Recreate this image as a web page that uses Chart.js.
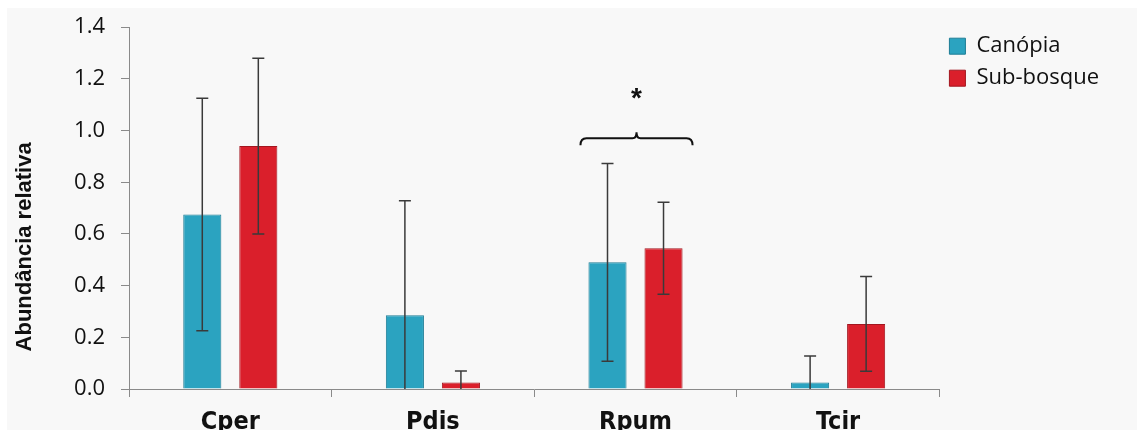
<!DOCTYPE html>
<html>
<head>
<meta charset="utf-8">
<script src="https://cdn.jsdelivr.net/npm/chart.js@4.4.1/dist/chart.umd.min.js"></script>
<style>
  html, body { margin: 0; padding: 0; background: #fff; overflow: hidden; }
  #bg { position: absolute; left: 7px; top: 8px; width: 1130px; height: 430px; background: #f8f8f8; }
  #wrap { position: absolute; left: 7px; top: -2px; width: 1130px; height: 450px; }
</style>
</head>
<body>
<div id="bg"></div>
<div id="wrap"><canvas id="abundChart"></canvas></div>
<script>
// Dados
const categories = ["Cper", "Pdis", "Rpum", "Tcir"];
const canopia = [0.675, 0.285, 0.49, 0.025];
const canopiaErr = [0.45, 0.443, 0.383, 0.103];
const subBosque = [0.94, 0.025, 0.545, 0.252];
const subBosqueErr = [0.34, 0.045, 0.178, 0.183];
const yTicks = [0, 0.2, 0.4, 0.6, 0.8, 1.0, 1.2, 1.4];
const yTitle = "Abundância relativa";

// chave de significancia
const sigCategory = "Rpum";
const sigLevel = 0.97;
const sigLabel = "*";

const errors = [canopiaErr, subBosqueErr];

// barras de erro, chave e titulo do eixo
const errorBarPlugin = {
  id: "errorBars",
  afterDatasetsDraw(chart) {
    const ctx = chart.ctx;
    const y = chart.scales.y;
    const area = chart.chartArea;
    ctx.save();
    ctx.beginPath();
    ctx.rect(area.left, area.top - 20, area.right - area.left, area.bottom - area.top + 20);
    ctx.clip();
    ctx.strokeStyle = "#3a3a3a";
    ctx.lineWidth = 1.5;
    chart.data.datasets.forEach(function (ds, di) {
      const meta = chart.getDatasetMeta(di);
      meta.data.forEach(function (bar, i) {
        const v = ds.data[i];
        const e = errors[di][i];
        const top = y.getPixelForValue(v + e);
        const bot = y.getPixelForValue(v - e);
        ctx.beginPath();
        ctx.moveTo(bar.x, top);
        ctx.lineTo(bar.x, bot);
        ctx.moveTo(bar.x - 6, top);
        ctx.lineTo(bar.x + 6, top);
        if (v - e > 0) {
          ctx.moveTo(bar.x - 6, bot);
          ctx.lineTo(bar.x + 6, bot);
        }
        ctx.stroke();
      });
    });
    ctx.restore();

    // chave + asterisco
    const idx = categories.indexOf(sigCategory);
    const b0 = chart.getDatasetMeta(0).data[idx];
    const b1 = chart.getDatasetMeta(1).data[idx];
    const x0 = b0.x - b0.width / 2 - 8;
    const x1 = b1.x + b1.width / 2 + 10;
    const xm = (x0 + x1) / 2;
    const yb = y.getPixelForValue(sigLevel);
    ctx.save();
    ctx.strokeStyle = "#111";
    ctx.lineWidth = 2;
    ctx.beginPath();
    ctx.moveTo(x0, yb + 7);
    ctx.quadraticCurveTo(x0, yb, x0 + 6, yb);
    ctx.lineTo(xm - 4, yb);
    ctx.quadraticCurveTo(xm, yb, xm, yb - 6);
    ctx.quadraticCurveTo(xm, yb, xm + 4, yb);
    ctx.lineTo(x1 - 6, yb);
    ctx.quadraticCurveTo(x1, yb, x1, yb + 7);
    ctx.stroke();
    ctx.fillStyle = "#111";
    ctx.font = "bold 28px 'Liberation Sans', Arial, sans-serif";
    ctx.textAlign = "center";
    ctx.textBaseline = "middle";
    ctx.fillText(sigLabel, xm, y.getPixelForValue(1.12));

    // titulo do eixo y
    ctx.translate(18, y.getPixelForValue(0.55));
    ctx.rotate(-Math.PI / 2);
    ctx.font = "bold 22px 'Liberation Sans', Arial, sans-serif";
    ctx.fillText(yTitle, 0, 0);
    ctx.restore();
  },
};

const ctx = document.getElementById("abundChart").getContext("2d");
new Chart(ctx, {
  type: "bar",
  data: {
    labels: categories,
    datasets: [
      {
        label: "Canópia",
        data: canopia,
        backgroundColor: "#2ba3c0",
        borderColor: "#1d7d95",
        borderWidth: 1,
        categoryPercentage: 0.553,
        barPercentage: 0.68,
      },
      {
        label: "Sub-bosque",
        data: subBosque,
        backgroundColor: "#da1f2b",
        borderColor: "#a3161f",
        borderWidth: 1,
        categoryPercentage: 0.553,
        barPercentage: 0.68,
      },
    ],
  },
  options: {
    responsive: true,
    maintainAspectRatio: false,
    animation: false,
    layout: { padding: { left: 2, right: 28, top: 0, bottom: 1 } },
    plugins: {
      legend: {
        position: "right",
        align: "start",
        title: { display: true, text: " ", font: { size: 1 }, padding: { top: 13, bottom: 13 } },
        labels: {
          boxWidth: 16,
          boxHeight: 16,
          padding: 10,
          color: "#111",
          font: { family: "'Open Sans', sans-serif", size: 22 },
        },
      },
      tooltip: { enabled: false },
    },
    scales: {
      y: {
        min: 0,
        max: 1.4,
        afterBuildTicks: function (axis) {
          axis.ticks = yTicks.map(function (v) { return { value: v }; });
        },
        afterFit: function (axis) { axis.width = 120; },
        ticks: {
          padding: 16,
          color: "#111",
          font: { family: "'Open Sans', sans-serif", size: 22 },
          callback: function (v) { return Number(v).toFixed(1); },
        },
        grid: { drawOnChartArea: false, drawTicks: true, tickLength: 8, color: "#8a8a8a" },
        border: { color: "#8a8a8a", width: 1 },
      },
      x: {
        ticks: {
          padding: 10,
          color: "#111",
          font: { family: "'DejaVu Sans Condensed', 'Liberation Sans', sans-serif", size: 25, weight: "bold" },
        },
        grid: { drawOnChartArea: false, drawTicks: true, tickLength: 8, offset: true, color: "#8a8a8a" },
        border: { color: "#8a8a8a", width: 1 },
      },
    },
  },
  plugins: [errorBarPlugin],
});
</script>
</body>
</html>
